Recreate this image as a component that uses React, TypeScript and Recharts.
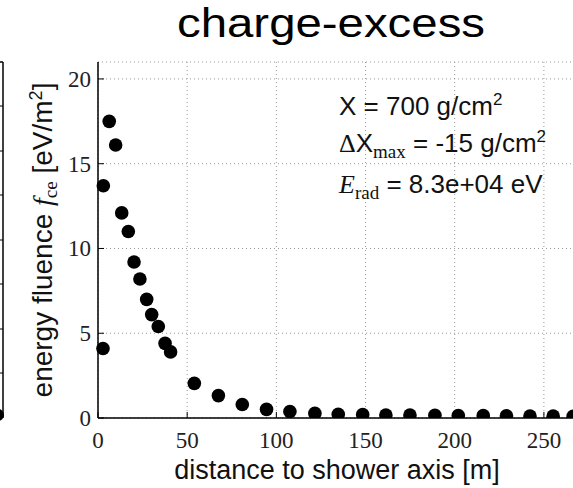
import { ScatterChart, Scatter, XAxis, YAxis, CartesianGrid } from "recharts";

// distance to shower axis [m]
const distances = [
  2.8, 3.0, 6.3, 9.9, 13.3, 17.0, 20.2, 23.5, 27.3, 30.1, 33.8, 37.6, 40.7,
  54, 67.5, 80.9, 94.5, 107.6, 121.6, 134.7, 148.4, 161.4, 174.9, 188.9, 202,
  216, 229, 242.2, 255.2, 266.4,
];
// energy fluence f_ce [eV/m^2]
const fluences = [
  4.1, 13.7, 17.5, 16.1, 12.1, 11.0, 9.2, 8.2, 7.0, 6.1, 5.4, 4.4, 3.9,
  2.04, 1.32, 0.8, 0.51, 0.38, 0.27, 0.22, 0.2, 0.18, 0.17, 0.16, 0.15,
  0.14, 0.13, 0.12, 0.11, 0.1,
];
const xTicks = [0, 50, 100, 150, 200, 250];
const yTicks = [0, 5, 10, 15, 20];
const leftPanelTicks = [106, 151, 195, 240, 284, 329, 373];

const data = distances.map((d, i) => ({ d, f: fluences[i] }));

const serif = "'Liberation Serif', 'DejaVu Serif', serif";
const sans = "'Liberation Sans', Arial, sans-serif";

type TickProps = { x?: number; y?: number; payload?: { value: number } };

function XTick({ x, y, payload }: TickProps) {
  return (
    <text x={x} y={(y ?? 0) + 34} textAnchor="middle" fontFamily={serif} fontSize={23} fill="#222">
      {payload?.value}
    </text>
  );
}

function YTick({ x, y, payload }: TickProps) {
  return (
    <text x={x} y={(y ?? 0) + 8} textAnchor="end" fontFamily={serif} fontSize={23} fill="#222">
      {payload?.value}
    </text>
  );
}

const dot = (props: any) => <circle cx={props.cx} cy={props.cy} r={6.8} fill="#000" />;

export default function App() {
  return (
    <div style={{ position: "absolute", left: 0, top: 0, width: 573, height: 488, overflow: "hidden", background: "#fff" }}>
      <ScatterChart width={580} height={488} margin={{ top: 62, right: 4, bottom: 0, left: 0 }}>
        <CartesianGrid xAxisId="b" yAxisId="l" stroke="#999" strokeDasharray="1 3" />
        <XAxis
          xAxisId="b"
          dataKey="d"
          type="number"
          domain={[0, 268]}
          ticks={xTicks}
          height={70}
          tickSize={-6}
          tick={<XTick />}
          axisLine={{ stroke: "#000", strokeWidth: 1.5 }}
          tickLine={{ stroke: "#000" }}
        />
        <XAxis
          xAxisId="t"
          orientation="top"
          type="number"
          domain={[0, 268]}
          ticks={xTicks}
          height={0}
          tickSize={-6}
          tick={false}
          axisLine={{ stroke: "#000", strokeWidth: 1.5 }}
          tickLine={{ stroke: "#000" }}
        />
        <YAxis
          yAxisId="l"
          dataKey="f"
          type="number"
          domain={[0, 21]}
          ticks={yTicks}
          width={98}
          tickSize={-6}
          tickMargin={13}
          tick={<YTick />}
          allowDataOverflow
          axisLine={{ stroke: "#000", strokeWidth: 1.5 }}
          tickLine={{ stroke: "#000" }}
        />
        <YAxis
          yAxisId="r"
          orientation="right"
          type="number"
          domain={[0, 21]}
          ticks={yTicks}
          width={0}
          tickSize={-6}
          tick={false}
          axisLine={{ stroke: "#000", strokeWidth: 1.5 }}
          tickLine={{ stroke: "#000" }}
        />
        <Scatter data={data} xAxisId="b" yAxisId="l" shape={dot} isAnimationActive={false} />
      </ScatterChart>

      {/* texts and the edge of the neighbouring panel */}
      <svg width={573} height={488} style={{ position: "absolute", left: 0, top: 0, pointerEvents: "none" }}>
        <line x1={3} y1={62} x2={3} y2={418} stroke="#000" strokeWidth={1.5} />
        <line x1={0} y1={62} x2={3} y2={62} stroke="#000" strokeWidth={1.5} />
        {leftPanelTicks.map((ty) => (
          <line key={ty} x1={0} y1={ty} x2={3} y2={ty} stroke="#000" />
        ))}
        <circle cx={-2} cy={415} r={6} fill="#000" />

        <text
          x={177}
          y={37}
          textLength={308}
          lengthAdjust="spacingAndGlyphs"
          fontFamily={sans}
          fontSize={40}
          fill="#000"
        >
          charge-excess
        </text>
        <text x={337} y={479} textAnchor="middle" fontFamily={sans} fontSize={27} fill="#111">
          distance to shower axis [m]
        </text>
        <text x={52} y={240} transform="rotate(-90 52 240)" textAnchor="middle" fontFamily={sans} fontSize={28} fill="#111">
          energy fluence{" "}
          <tspan fontFamily={serif} fontStyle="italic">f</tspan>
          <tspan fontFamily={serif} fontSize={19} dy={5}>ce</tspan>
          <tspan dy={-5}> [eV/m</tspan>
          <tspan fontSize={18} dy={-10}>2</tspan>
          <tspan dy={10}>]</tspan>
        </text>

        <text x={339} y={115} fontFamily={sans} fontSize={26} fill="#111">
          X = 700 g/cm<tspan fontSize={17} dy={-10}>2</tspan>
        </text>
        <text x={339} y={152} fontFamily={sans} fontSize={26} fill="#111">
          <tspan fontFamily={serif}>Δ</tspan>X
          <tspan fontFamily={serif} fontSize={19} dy={6}>max</tspan>
          <tspan dy={-6}> = -15 g/cm</tspan>
          <tspan fontSize={17} dy={-10}>2</tspan>
        </text>
        <text x={339} y={193} fontFamily={sans} fontSize={26} fill="#111">
          <tspan fontFamily={serif} fontStyle="italic">E</tspan>
          <tspan fontFamily={serif} fontSize={19} dy={6}>rad</tspan>
          <tspan dy={-6}> = 8.3e+04 eV</tspan>
        </text>
      </svg>
    </div>
  );
}
